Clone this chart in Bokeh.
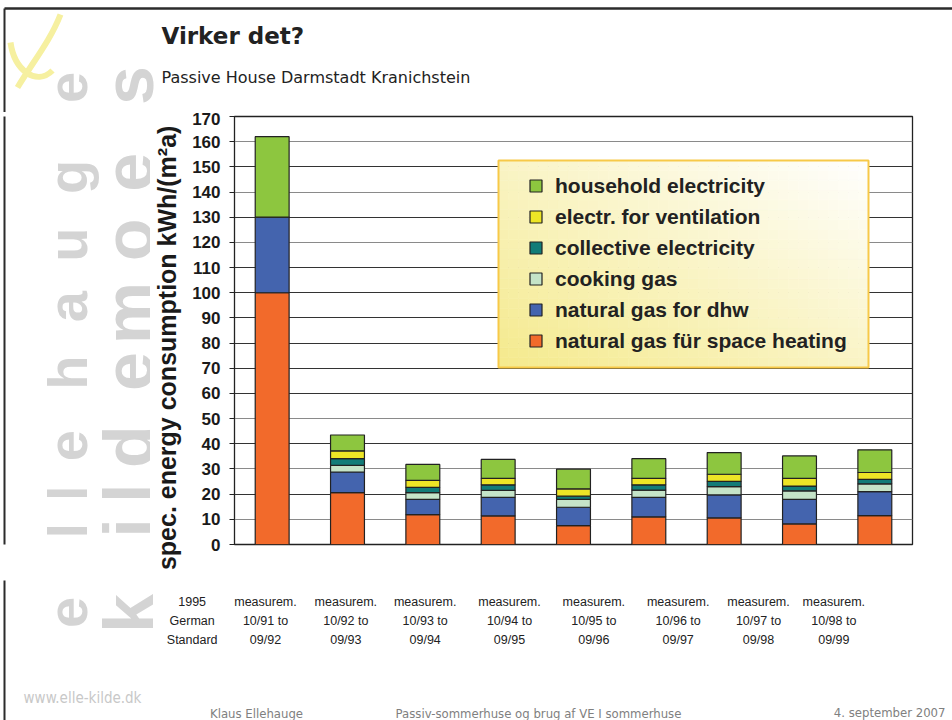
import math
from bokeh.plotting import figure
from bokeh.layouts import column, row
from bokeh.models import (FactorRange, Range1d, ColumnDataSource, Legend,
                          LegendItem, FixedTicker, Grid)
from bokeh.core.properties import value
from bokeh.embed import file_html
from bokeh.resources import INLINE

# ---------------- data ----------------
categories = [
    "1995\nGerman\nStandard",
    "measurem.\n10/91 to\n09/92",
    "measurem.\n10/92 to\n09/93",
    "measurem.\n10/93 to\n09/94",
    "measurem.\n10/94 to\n09/95",
    "measurem.\n10/95 to\n09/96",
    "measurem.\n10/96 to\n09/97",
    "measurem.\n10/97 to\n09/98",
    "measurem.\n10/98 to\n09/99",
]
space_heating = [100, 20.6, 11.9, 11.4, 7.5, 11.0, 10.6, 8.2, 11.5]
gas_dhw = [30, 8.2, 6.0, 7.3, 7.3, 7.7, 9.1, 9.7, 9.5]
cooking_gas = [0, 2.6, 2.7, 2.8, 3.1, 2.9, 3.3, 3.4, 3.1]
collective_el = [0, 2.7, 2.1, 2.2, 1.3, 2.1, 2.1, 1.9, 1.8]
ventilation_el = [0, 3.1, 2.8, 2.6, 2.9, 2.6, 2.8, 3.1, 2.7]
household_el = [32, 6.3, 6.3, 7.5, 7.8, 7.8, 8.6, 8.9, 9.0]
series_names = [
    "natural gas für space heating",
    "natural gas for dhw",
    "cooking gas",
    "collective electricity",
    "electr. for ventilation",
    "household electricity",
]
y_ticks = list(range(0, 171, 10))
title_text = "Virker det?"
subtitle_text = "Passive House Darmstadt Kranichstein"
footer_texts = ["Klaus Ellehauge",
                "Passiv-sommerhuse og brug af VE I sommerhuse",
                "4. september 2007"]
y_label = "spec. energy consumption kWh/(m²a)"

# ---------------- styles / layout ----------------
colors = ["#F26A2B", "#4464AE", "#C5E4C8", "#127C78", "#EDE526", "#8DC63F"]
label_shift = [-80, -82, -77, -73, -64, -55, -46, -41, -41]
dark_grid = [20, 40, 60, 70, 80, 90, 100, 110, 130, 150, 170]
grey_grid = [10, 30, 50, 120, 140, 160]
NARROW = "'Liberation Sans Narrow', 'DejaVu Sans Condensed', 'Liberation Sans', sans-serif"
W, H = 952, 720
TOP_H = 112          # top band height
MID_H = 468          # middle band height (chart)
LEFT_W = 150         # logo column width in middle band
FL, FR, FT, FB = 234, 912, 116, 544   # chart frame on the page
YMAX = 170


def helper(x0, y0, w, h):
    # a blank canvas whose data coordinates are page pixels (y stored negated)
    f = figure(width=w, height=h, x_range=Range1d(x0, x0 + w),
               y_range=Range1d(-(y0 + h), -y0), min_border=0,
               toolbar_location=None, output_backend="svg",
               x_axis_location=None, y_axis_location=None,
               background_fill_color="white", border_fill_color="white")
    f.grid.visible = False
    f.outline_line_color = None
    return f


# logo watermark (page coordinates)
ellehauge = [("e", 612), ("l", 565), ("l", 524), ("e", 472), ("h", 392),
             ("a", 320), ("u", 252), ("g", 178), ("e", 87)]
kildemoes = [("k", 613), ("i", 562), ("l", 524), ("d", 473), ("e", 391),
             ("m", 327), ("o", 247), ("e", 173), ("s", 85)]
LOGO_GREY = "#d4d4d4"


def draw_logo(f, y0, y1):
    for letters, bx, size in [(ellehauge, 67, "56px"), (kildemoes, 128, "70px")]:
        sel = [(c, yy) for c, yy in letters if y0 <= yy < y1]
        if sel:
            f.text(x=[bx] * len(sel), y=[-yy for _, yy in sel],
                   text=[c for c, _ in sel], angle=math.pi / 2,
                   text_font=value("Liberation Sans"), text_font_style="bold",
                   text_font_size=size, text_color=LOGO_GREY,
                   text_align="center", text_baseline="alphabetic")
    # slide frame, left edge
    f.segment(x0=[4], y0=[-max(y0 - 2, 8)], x1=[4], y1=[-(y1 + 2)],
              line_color="#2b2b2b", line_width=2)


# ---------------- top band ----------------
top = helper(0, 0, W, TOP_H)
draw_logo(top, 0, TOP_H)
# yellow swoosh of the logo
top.bezier(x0=[60], y0=[-14], cx0=[50], cy0=[-40], cx1=[32], cy1=[-62],
           x1=[17], y1=[-87], line_color="#F6F0A0", line_width=6)
top.bezier(x0=[10], y0=[-42], cx0=[14], cy0=[-70], cx1=[36], cy1=[-86],
           x1=[52], y1=[-70], line_color="#F6F0A0", line_width=6)
top.segment(x0=[4], y0=[-8], x1=[W], y1=[-8], line_color="#2b2b2b",
            line_width=2.5)
top.text(x=[161], y=[-35], text=[title_text], text_font=value("DejaVu Sans"),
         text_font_style="bold", text_font_size="23px", text_color="#222222",
         text_baseline="alphabetic")
top.text(x=[161], y=[-77], text=[subtitle_text], text_font=value("DejaVu Sans"),
         text_font_size="16px", text_color="#222222", text_baseline="alphabetic")

# ---------------- left logo column ----------------
left = helper(0, TOP_H, LEFT_W, MID_H)
draw_logo(left, TOP_H, TOP_H + MID_H)

# ---------------- chart ----------------
keys = ["heat", "dhw", "cook", "coll", "vent", "house"]
src = ColumnDataSource(dict(cat=categories, heat=space_heating, dhw=gas_dhw,
                            cook=cooking_gas, coll=collective_el,
                            vent=ventilation_el, house=household_el))

p = figure(x_range=FactorRange(*categories), y_range=Range1d(0, YMAX),
           width=W - LEFT_W, height=MID_H, output_backend="svg",
           toolbar_location=None, x_axis_location=None,
           min_border_left=FL - LEFT_W, min_border_right=W - FR,
           min_border_top=FT - TOP_H, min_border_bottom=TOP_H + MID_H - FB,
           background_fill_color="white", border_fill_color="white")
p.outline_line_color = "#222222"
p.outline_line_width = 1.3

p.xgrid.visible = False
p.ygrid.ticker = FixedTicker(ticks=dark_grid)
p.ygrid.grid_line_color = "#333333"
p.ygrid.grid_line_width = 1
p.add_layout(Grid(dimension=1, ticker=FixedTicker(ticks=grey_grid),
                  grid_line_color="#8a8a8a", grid_line_width=1))

p.yaxis.ticker = FixedTicker(ticks=y_ticks)
p.yaxis.minor_tick_line_color = None
p.yaxis.major_tick_out = 5
p.yaxis.major_tick_in = 0
p.yaxis.major_tick_line_color = "#222222"
p.yaxis.axis_line_color = "#222222"
p.yaxis.major_label_text_font = "Liberation Sans"
p.yaxis.major_label_text_font_style = "bold"
p.yaxis.major_label_text_font_size = "17px"
p.yaxis.major_label_text_color = "#1a1a1a"
p.yaxis.major_label_standoff = 9
# trailing no-break spaces move the centred label slightly down, as in the original
p.yaxis.axis_label = y_label + "\u00a0" * 5
p.yaxis.axis_label_text_font = "Liberation Sans"
p.yaxis.axis_label_text_font_style = "bold"
p.yaxis.axis_label_text_font_size = "25px"
p.yaxis.axis_label_text_color = "#1a1a1a"
p.yaxis.axis_label_standoff = 8


def cx(px):  # page x -> synthetic categorical coordinate
    return (px - FL) / (FR - FL) * len(categories)


def dy(py):  # page y -> data y
    return (FB - py) / (FB - FT) * YMAX


# legend box: diagonal gradient from small cells, plus border
LB_L, LB_R, LB_T, LB_B = 498, 868, 160, 367
base = (245, 234, 140)
cells_x, cells_y = 37, 21
xs_l, xs_r, ys_b, ys_t, fills = [], [], [], [], []
for i in range(cells_x):
    for j in range(cells_y):
        u = (i + 0.5) / cells_x
        v = (j + 0.5) / cells_y
        tt = (u + v) / 2.0
        rgb = tuple(int(base[c] + (255 - base[c]) * tt) for c in range(3))
        fills.append("#%02x%02x%02x" % rgb)
        xs_l.append(cx(LB_L + (LB_R - LB_L) * i / cells_x))
        xs_r.append(cx(LB_L + (LB_R - LB_L) * (i + 1) / cells_x))
        ys_b.append(dy(LB_B - (LB_B - LB_T) * j / cells_y))
        ys_t.append(dy(LB_B - (LB_B - LB_T) * (j + 1) / cells_y))
p.quad(left=xs_l, right=xs_r, bottom=ys_b, top=ys_t, fill_color=fills,
       line_color=fills, line_width=0.6)
p.quad(left=cx(LB_L), right=cx(LB_R), bottom=dy(LB_B), top=dy(LB_T),
       fill_alpha=0, line_color="#F7C948", line_width=2)

rs = p.vbar_stack(keys, x="cat", width=0.45, color=colors, source=src,
                  line_color="#222222", line_width=1.2)

legend = Legend(items=[LegendItem(label=series_names[i], renderers=[rs[i]])
                       for i in reversed(range(6))],
                location=(529 - FL - 1, FB - 364 + 8), margin=0, padding=9,
                spacing=0, label_height=31, glyph_width=15, glyph_height=15,
                label_standoff=12, background_fill_alpha=0,
                border_line_color=None, label_text_font="Liberation Sans",
                label_text_font_style="bold", label_text_font_size="21px",
                label_text_color="#222222")
p.add_layout(legend)

# ---------------- bottom band ----------------
BOT_Y = TOP_H + MID_H
bottom = helper(0, BOT_Y, W, H - BOT_Y)
draw_logo(bottom, BOT_Y, H)
bottom.text(x=[82], y=[-697], text=["www.elle-kilde.dk"],
            text_font=value(NARROW), text_font_size="15px",
            text_color="#c8c8c8", text_align="center",
            text_baseline="alphabetic")
step = (FR - FL) / len(categories)
lx, ly, lt = [], [], []
for i, cat in enumerate(categories):
    for k, line in enumerate(cat.split("\n")):
        lx.append(FL + (i + 0.5) * step + label_shift[i])
        ly.append(-(601 + 19 * k))
        lt.append(line)
bottom.text(x=lx, y=ly, text=lt, text_font=value("Liberation Sans"),
            text_font_size="12.5px", text_color="#222222",
            text_align="center", text_baseline="middle")
bottom.text(x=[256, 538, 945], y=[-713, -713, -712], text=footer_texts,
            text_align=["center", "center", "right"],
            text_font=value(NARROW), text_font_size="13px",
            text_color="#808080", text_baseline="alphabetic")

layout = column(top, row(left, p), bottom)
open("out.html", "w").write(file_html(layout, INLINE))
